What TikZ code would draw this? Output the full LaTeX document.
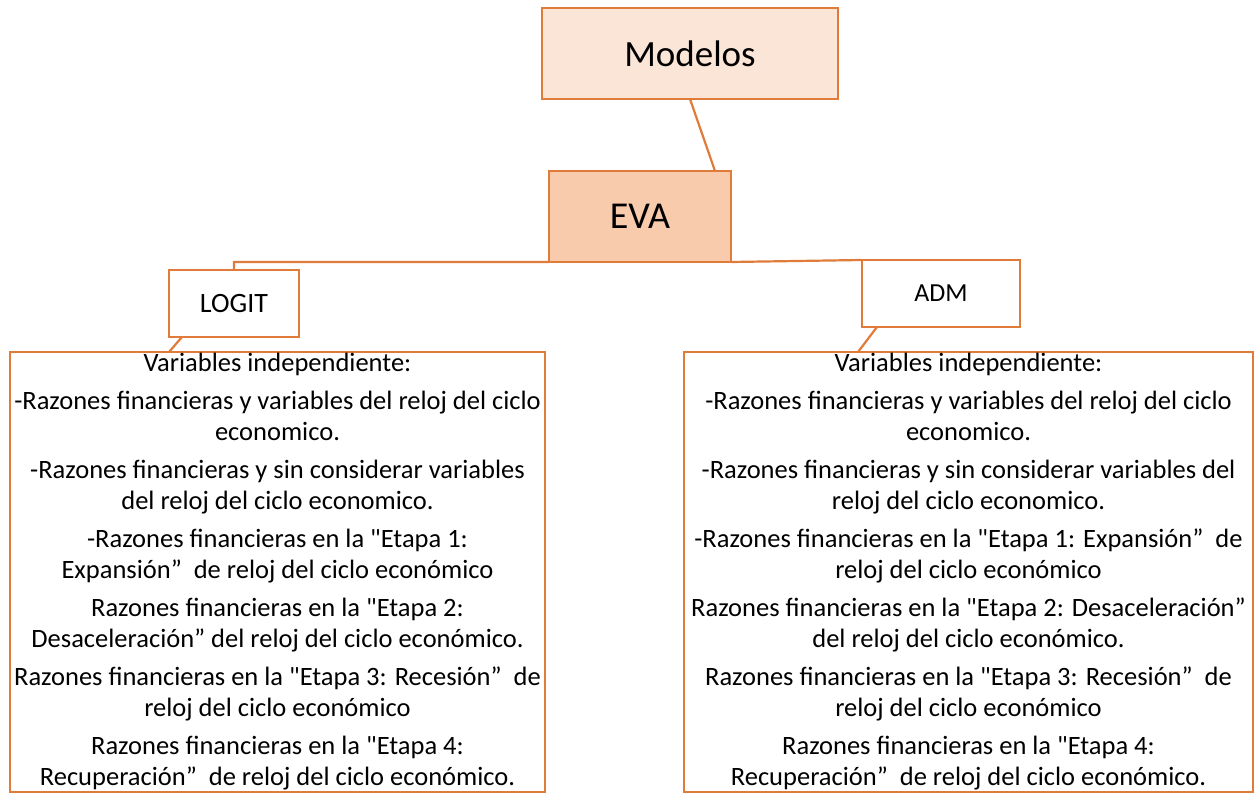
\documentclass[tikz,border=0pt]{standalone}
\usepackage{fontspec}
\setmainfont{Carlito}
\usetikzlibrary{calc}
\definecolor{naranja}{HTML}{E07B39}
\definecolor{claro}{HTML}{FBE5D6}
\definecolor{medio}{HTML}{F8CBAD}
\newcommand{\cuerpo}{\fontsize{26.5}{31}\selectfont}
\newcommand{\cq}{\textquotedbl}

\begin{document}
\begin{tikzpicture}[x=1pt,y=-1pt,
    caja/.style={draw=naranja,line width=2.2pt,outer sep=0pt,inner sep=0pt},
    enlace/.style={draw=naranja,line width=2.2pt}]
  \useasboundingbox (0,0) rectangle (1255,794);
  \node[caja,fill=claro,minimum width=296pt,minimum height=91pt,font=\fontsize{37}{40}\selectfont] (modelos) at (690,53.5) {Modelos};
  \node[caja,fill=medio,minimum width=182pt,minimum height=91pt,font=\fontsize{38}{40}\selectfont] (eva) at (640,216.5) {EVA};
  \node[caja,fill=white,minimum width=130pt,minimum height=67pt,font=\fontsize{28}{30}\selectfont] (logit) at (234,303.5) {LOGIT};
  \node[caja,fill=white,minimum width=158pt,minimum height=67pt,font=\fontsize{26}{30}\selectfont] (adm) at (941,293.5) {ADM};
  \node[caja,minimum width=535pt,minimum height=440pt] (izq) at (277.5,572) {};
  \node[caja,minimum width=569pt,minimum height=440pt] (der) at (968.5,572) {};
  \node[align=center,font=\cuerpo] (textoizq) at (izq.center) {%
    Variables independiente:\\[7pt]
    -Razones financieras y variables del reloj del ciclo\\
    economico.\\[7pt]
    -Razones financieras y sin considerar variables\\
    del reloj del ciclo economico.\\[7pt]
    -Razones financieras en la \cq Etapa 1:\\
    Expansión”~ de reloj del ciclo económico\\[7pt]
    Razones financieras en la \cq Etapa 2:\\
    Desaceleración” del reloj del ciclo económico.\\[7pt]
    Razones financieras en la \cq Etapa 3: Recesión”~ de\\
    reloj del ciclo económico\\[7pt]
    Razones financieras en la \cq Etapa 4:\\
    Recuperación”~ de reloj del ciclo económico.};
  \node[align=center,font=\cuerpo] (textoder) at (der.center) {%
    Variables independiente:\\[7pt]
    -Razones financieras y variables del reloj del ciclo\\
    economico.\\[7pt]
    -Razones financieras y sin considerar variables del\\
    reloj del ciclo economico.\\[7pt]
    -Razones financieras en la \cq Etapa 1: Expansión”~ de\\
    reloj del ciclo económico\\[7pt]
    Razones financieras en la \cq Etapa 2: Desaceleración”\\
    del reloj del ciclo económico.\\[7pt]
    Razones financieras en la \cq Etapa 3: Recesión”~ de\\
    reloj del ciclo económico\\[7pt]
    Razones financieras en la \cq Etapa 4:\\
    Recuperación”~ de reloj del ciclo económico.};
  \path[enlace]
    (modelos.south) -- ([xshift=-16pt]eva.north east)
    (eva.south west) -| (logit.north)
    (eva.south east) -- (adm.north west)
    ([xshift=13pt]logit.south west) -- ([xshift=159pt]izq.north west)
    ([xshift=15pt]adm.south west) -- ([xshift=174pt]der.north west);
\end{tikzpicture}
\end{document}
